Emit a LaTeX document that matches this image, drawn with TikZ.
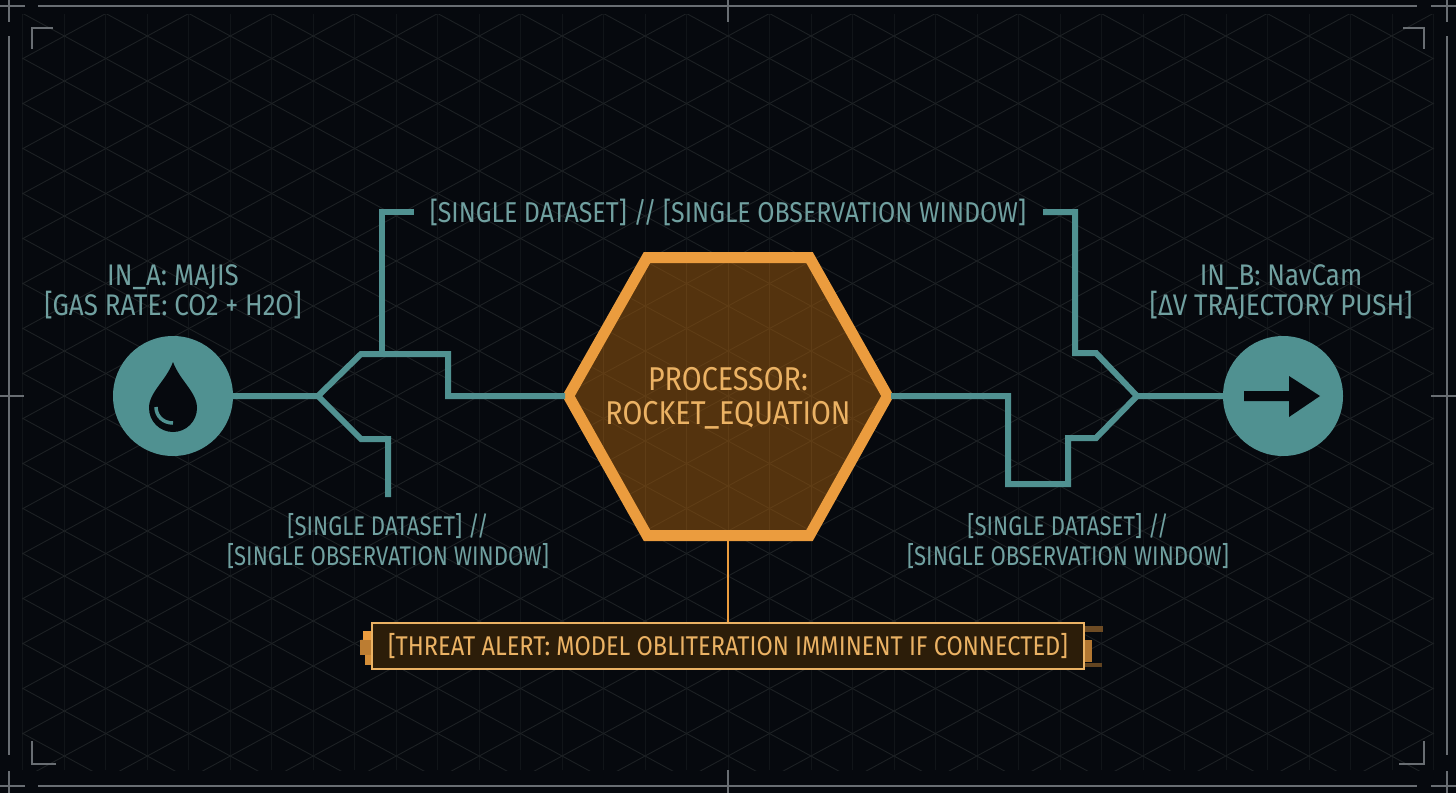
\documentclass[tikz,border=0pt]{standalone}
\usepackage{fontspec}
\setmainfont{Fira Sans}[FakeStretch=0.87]
\newcommand{\gridlines}[2]{%
  \foreach \k in {-17,...,17} {
    \draw[#1] ({728+41.5*\k},14) -- ({728+41.5*\k},770);
  }
  \foreach \k in {-10,...,26} {
    \draw[#2] (22,{36+45*\k-383}) -- (1434,{36+45*\k+383});
    \draw[#2] (22,{36+45*\k+383}) -- (1434,{36+45*\k-383});
  }
}
\begin{document}
\begin{tikzpicture}[x=1pt,y=-1pt,
  frameline/.style={framegray,line width=2pt},
  conn/.style={tealline,line width=6pt,line join=miter},
  tealtext/.style={text=tealtxt,font=\fontsize{28.7}{30}\selectfont,align=center,inner sep=0pt},
  portlabel/.style={tealtext,font=\fontsize{29.8}{30}\selectfont},
  sidelabel/.style={tealtext,font=\fontsize{27}{30}\selectfont\addfontfeature{FakeStretch=0.82}},
  orangetext/.style={text=orangetxt,align=center,inner sep=0pt},
  port/.style={circle,fill=tealline,minimum size=120pt,inner sep=0pt}]

% Colors
\definecolor{bgdark}{RGB}{6,9,14}
\definecolor{framegray}{RGB}{105,110,115}
\definecolor{gridgray}{RGB}{29,33,36}
\definecolor{griddim}{RGB}{17,21,25}
\definecolor{tealline}{RGB}{80,145,145}
\definecolor{tealtxt}{RGB}{112,160,160}
\definecolor{hexorange}{RGB}{235,156,62}
\definecolor{hexfill}{RGB}{84,51,14}
\definecolor{hexgrid}{RGB}{95,61,22}
\definecolor{orangetxt}{RGB}{235,178,100}
\definecolor{alertfill}{RGB}{44,29,9}

\useasboundingbox (0,0) rectangle (1456,793);
\fill[bgdark] (0,0) rectangle (1456,793);

% Background grid
\begin{scope}
  \clip (22,14) rectangle (1434,770);
  \gridlines{griddim,line width=0.9pt}{gridgray,line width=0.9pt}
\end{scope}

% Outer frame
\draw[frameline] (38,6) -- (1417,6);
\draw[frameline] (38,786) -- (1417,786);
\draw[frameline] (9,36) -- (9,755);
\draw[frameline] (1447,36) -- (1447,755);
\draw[frameline] (0,6) -- (25,6);
\draw[frameline] (9,0) -- (9,22);
\draw[frameline] (1431,6) -- (1456,6);
\draw[frameline] (1447,0) -- (1447,22);
\draw[frameline] (0,786) -- (25,786);
\draw[frameline] (9,771) -- (9,793);
\draw[frameline] (1431,786) -- (1456,786);
\draw[frameline] (1447,771) -- (1447,793);

% Center ticks
\draw[frameline] (728,0) -- (728,22);
\draw[frameline] (728,770) -- (728,793);
\draw[frameline] (0,396) -- (24,396);
\draw[frameline] (1431,396) -- (1456,396);

% Corner brackets
\draw[frameline] (53,28) -- (32,28) -- (32,49);
\draw[frameline] (1403,28) -- (1424,28) -- (1424,49);
\draw[frameline] (56,764) -- (32,764) -- (32,741);
\draw[frameline] (1399,764) -- (1424,764) -- (1424,741);

% Ports
\node[port] (portA) at (173,396) {};
\node[port] (portB) at (1283,396) {};

% Drop icon
\fill[bgdark] (173,362) .. controls (166,381) and (149,392) .. (149,408)
  arc (180:0:24) .. controls (197,392) and (180,381) .. (173,362) -- cycle;
\draw[tealline,line width=3.5pt] (156,407) .. controls (156,416) and (163,423) .. (173,423);

% Arrow icon
\fill[bgdark] (1244,391) -- (1289,391) -- (1289,376) -- (1320,396)
  -- (1289,417) -- (1289,401) -- (1244,401) -- cycle;

% Processor
\fill[hexfill] (568.5,396) -- (647,257.5) -- (809.5,257.5) -- (887.5,396) -- (809.5,535.5) -- (647,535.5) -- cycle;
\begin{scope}
  \clip (568.5,396) -- (647,257.5) -- (809.5,257.5) -- (887.5,396) -- (809.5,535.5) -- (647,535.5) -- cycle;
  \gridlines{hexgrid,line width=0.9pt}{hexgrid,line width=0.9pt}
\end{scope}
\draw[hexorange,line width=11pt,line join=miter] (568.5,396) -- (647,257.5) -- (809.5,257.5) -- (887.5,396) -- (809.5,535.5) -- (647,535.5) -- cycle;
\node[orangetext,font=\fontsize{33}{34}\selectfont,minimum width=325pt,minimum height=290pt] (processor) at (728,398) {PROCESSOR:\\ROCKET\_EQUATION};

% Labels
\node[portlabel] (labelA) at (173,292) {IN\_A: MAJIS\\{}[GAS RATE: CO2 + H2O]};
\node[portlabel] (labelB) at (1281,292) {IN\_B: NavCam\\{}[ΔV TRAJECTORY PUSH]};
\node[tealtext] (labelTop) at (728,212) {[SINGLE DATASET] // [SINGLE OBSERVATION WINDOW]};
\node[sidelabel] (labelLow) at (388,541) {[SINGLE DATASET] //\\{}[SINGLE OBSERVATION WINDOW]};
\node[sidelabel] (labelHigh) at (1068,541) {[SINGLE DATASET] //\\{}[SINGLE OBSERVATION WINDOW]};

% Connector points
\coordinate (hexW) at (565,396);
\coordinate (hexE) at (891,396);
\coordinate (forkA) at (318,396);
\coordinate (kneeA) at (361,354);
\coordinate (stepA) at (448,354);
\coordinate (teeA) at (382,354);
\coordinate (topA) at (414,212);
\coordinate (lowA) at (361,439);
\coordinate (endA) at (388,497);
\coordinate (forkB) at (1137,396);
\coordinate (kneeB) at (1096,353);
\coordinate (teeB) at (1075,353);
\coordinate (topB) at (1043,212);
\coordinate (lowB) at (1096,438);
\coordinate (stepB) at (1068,484);
\coordinate (dipB) at (1008,484);

% Left side
\draw[conn] (portA.east) -- (forkA) -- (kneeA) -- (stepA) |- (hexW);
\draw[conn] (teeA) |- (topA);
\draw[conn] (forkA) -- (lowA) -| (endA);

% Right side
\draw[conn] (portB.west) -- (forkB) -- (kneeB) -- (teeB) |- (topB);
\draw[conn] (forkB) -- (lowB) -| (stepB) -- (dipB) |- (hexE);

% Threat alert
\fill[hexorange] (363,631) rectangle (372,640);
\fill[hexorange!80!black] (360,640) rectangle (372,655);
\fill[hexorange!90!black] (365,655) rectangle (372,665);
\fill[hexorange!45!bgdark] (1085,626) rectangle (1103,632);
\fill[hexorange!75!bgdark] (1085,640) rectangle (1092,662);
\fill[hexorange!40!bgdark] (1085,663) rectangle (1102,667);
\node[draw=orangetxt,fill=alertfill,line width=2pt,minimum width=712pt,minimum height=46pt,inner sep=0pt,text=orangetxt,font=\fontsize{27.1}{30}\selectfont] (alert) at (728,646) {[THREAT ALERT: MODEL OBLITERATION IMMINENT IF CONNECTED]};
\coordinate (hexS) at (728,541);
\draw[hexorange,line width=2pt] (hexS) -- (alert.north);

\end{tikzpicture}
\end{document}
